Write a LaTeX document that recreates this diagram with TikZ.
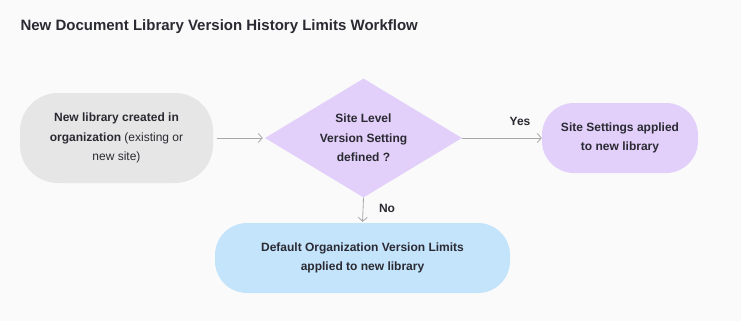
\documentclass[tikz,border=0pt]{standalone}
\usepackage{fontspec}
\setmainfont{Liberation Sans}
\usepackage{xcolor}
\usetikzlibrary{arrows.meta,positioning,shapes.geometric}

\definecolor{bgcol}{RGB}{250,250,250}
\definecolor{greyfill}{RGB}{230,230,230}
\definecolor{lilac}{RGB}{226,207,250}
\definecolor{paleblue}{RGB}{196,228,252}
\definecolor{inkcol}{RGB}{42,42,50}
\definecolor{wirecol}{RGB}{168,168,168}

\begin{document}
\begin{tikzpicture}[
  x=1pt,y=-1pt,
  >={Straight Barb[length=4pt,width=9pt]},
  every node/.style={font=\fontsize{12}{19.5}\selectfont\bfseries,text=inkcol,align=center},
  gnode/.style={fill=greyfill,rounded corners=38pt,
                minimum width=193pt,minimum height=90pt,inner sep=0pt},
  qnode/.style={diamond,fill=lilac,aspect=1.65,
                minimum width=197pt,minimum height=119pt,inner sep=0pt},
  lnode/.style={fill=lilac,rounded corners=32pt,
                minimum width=156pt,minimum height=70pt,inner sep=0pt},
  bnode/.style={fill=paleblue,rounded corners=32pt,
                minimum width=295pt,minimum height=70pt,inner sep=0pt},
  flow/.style={->,draw=wirecol,line width=0.8pt}
]

% ---- canvas ----
\fill[bgcol] (0,0) rectangle (741,321);
\useasboundingbox (0,0) rectangle (741,321);

% ---- title ----
\node[font=\fontsize{15}{18}\selectfont\bfseries,anchor=base west] (title) at (17,31)
  {New Document Library Version History Limits Workflow};

% ---- flow nodes ----
\node[gnode] (newlib) at (116.5,138)
  {New library created in\\organization {\mdseries (existing or}\\{\mdseries new site)}};
\node[qnode] (sitelevel) at (363.5,138) {Site Level\\Version Setting\\defined ?};
\node[lnode] (siteapplied) at (620,138) {Site Settings applied\\to new library};
\node[bnode] (orgdefault) at (362.5,258)
  {Default Organization Version Limits\\applied to new library};

% ---- connectors ----
\draw[flow,shorten <=4pt,shorten >=2pt] (newlib.east) -- (sitelevel.west);
\draw[flow] (sitelevel.east) -- (siteapplied.west);
\draw[flow,shorten >=1pt] (sitelevel.south) -- (orgdefault.north);

% ---- branch labels ----
\node (yes) at (520,121) {Yes};
\node (no) at (387,208) {No};

\end{tikzpicture}
\end{document}
